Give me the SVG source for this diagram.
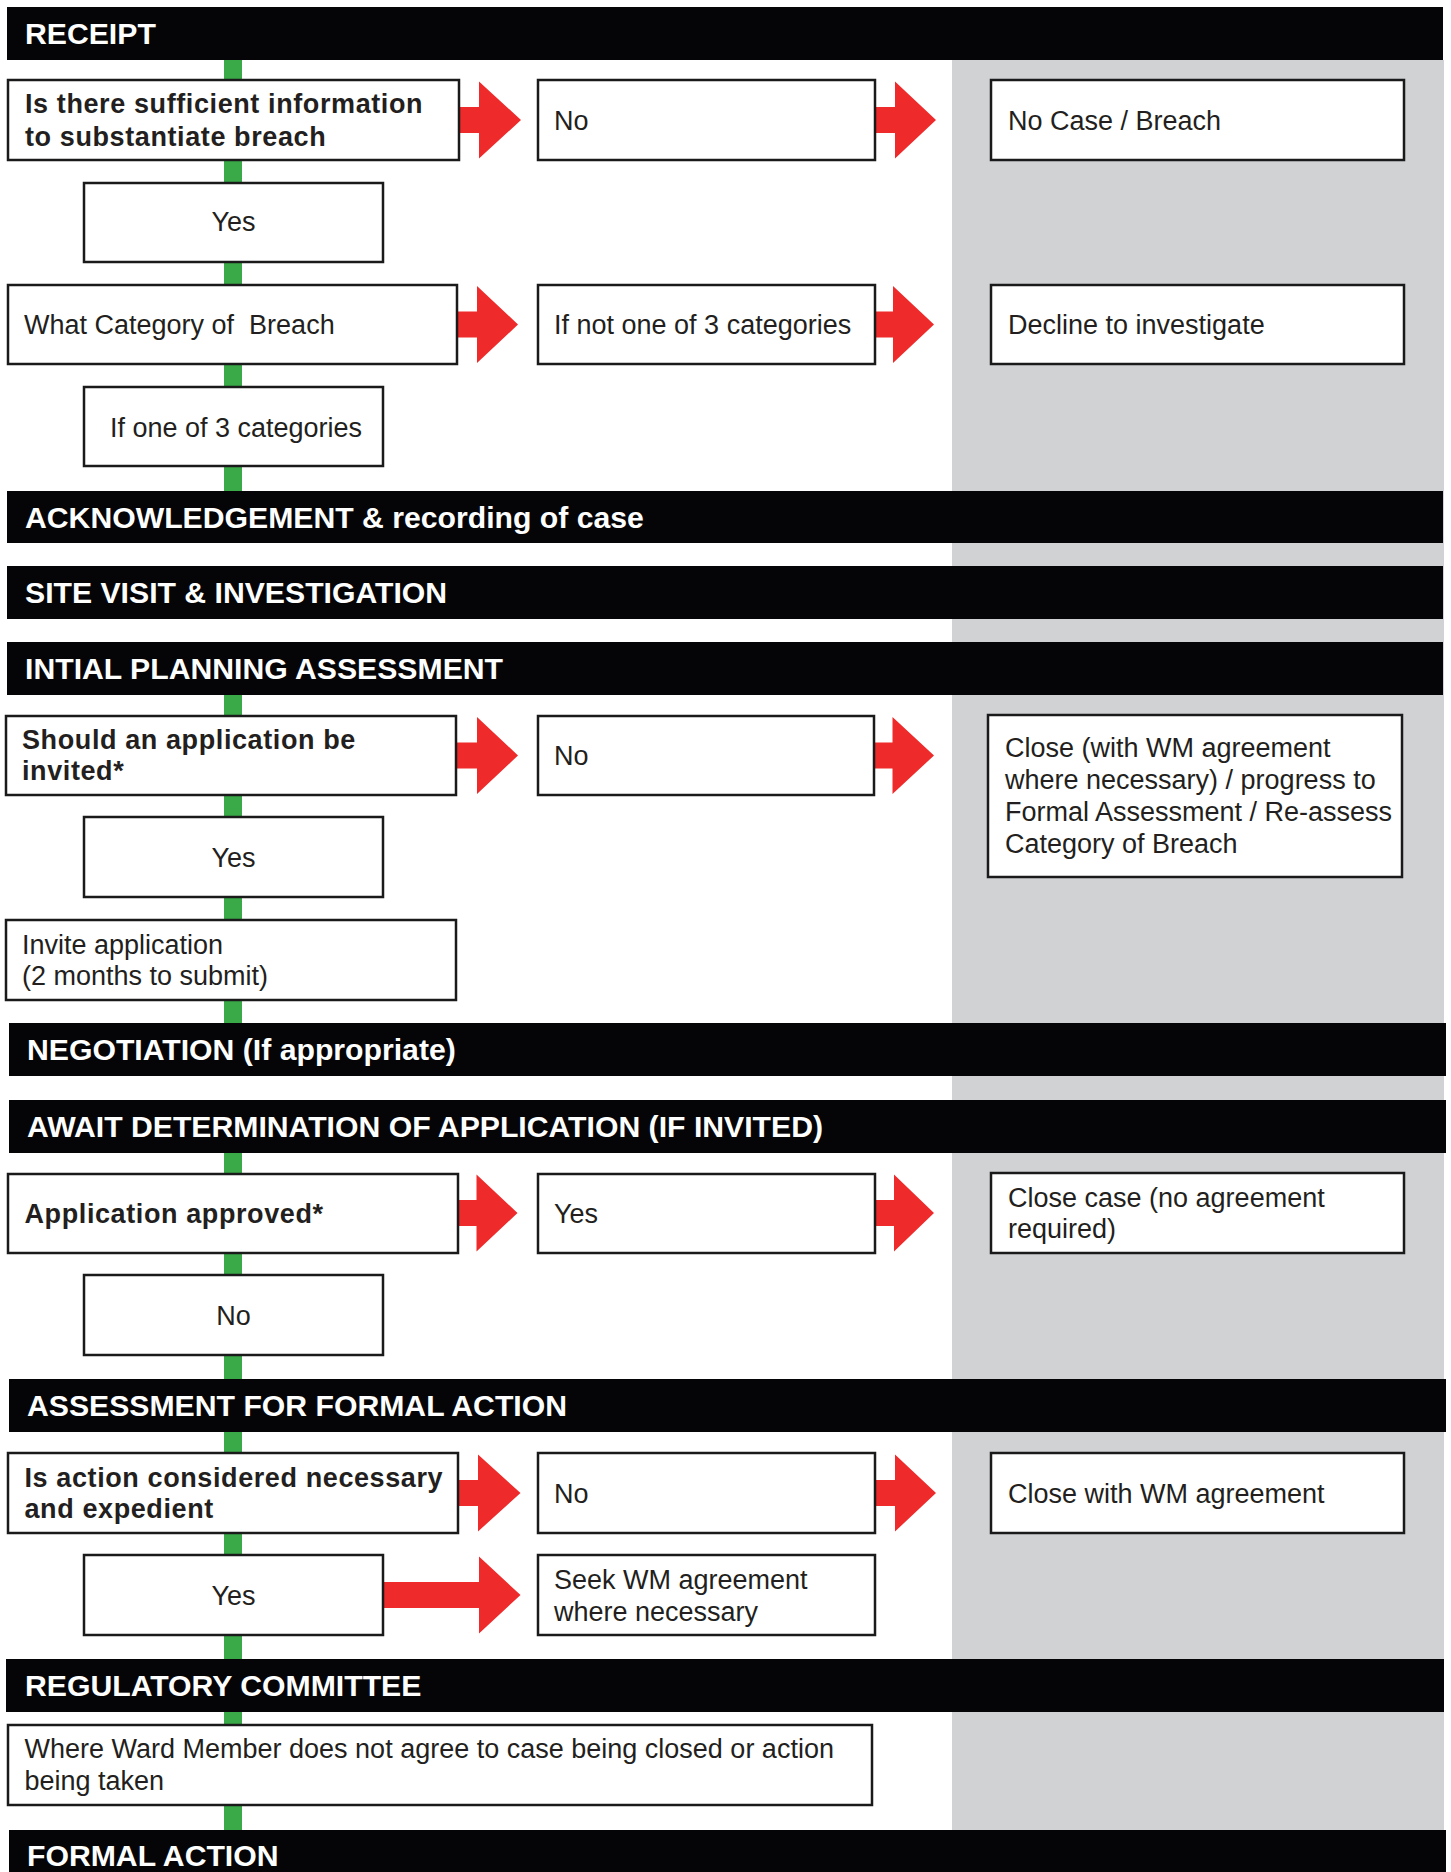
<svg xmlns="http://www.w3.org/2000/svg" width="1451" height="1872" viewBox="0 0 1451 1872">
<style>
  text { font-family: "Liberation Sans", Arial, Helvetica, sans-serif; }
  .bar { fill: #050507; }
  .bt { fill: #ffffff; font-size: 30.2px; font-weight: bold; }
  .box { fill: #ffffff; stroke: #1a1a1a; stroke-width: 2.5; }
  .t { fill: #231f20; font-size: 27px; }
  .c { text-anchor: middle; }
  .b { fill: #231f20; font-size: 27px; font-weight: bold; letter-spacing: 0.6px; }
  .green { fill: #3aaa49; }
  .arr { fill: #ee2a2a; }
  .gray { fill: #d1d2d4; }
</style>
<rect width="1451" height="1872" fill="#ffffff"/>
<rect class="gray" x="952" y="60" width="492" height="1770"/>

<g id="connectors">
  <rect class="green" x="224" y="60" width="18" height="431"/>
  <rect class="green" x="224" y="695" width="18" height="328"/>
  <rect class="green" x="224" y="1152" width="18" height="227"/>
  <rect class="green" x="224" y="1432" width="18" height="227"/>
  <rect class="green" x="224" y="1712" width="18" height="118"/>
  <polygon class="arr" points="460,107 479,107 479,81.5 521,120 479,158.5 479,133 460,133"/>
  <polygon class="arr" points="876,107 895,107 895,81.5 936,120 895,158.5 895,133 876,133"/>
  <polygon class="arr" points="457,311.5 477,311.5 477,286 518,324.5 477,363 477,337.5 457,337.5"/>
  <polygon class="arr" points="873,311.5 893,311.5 893,286 934,324.5 893,363 893,337.5 873,337.5"/>
  <polygon class="arr" points="457,742.5 477,742.5 477,717 518,755.5 477,794 477,768.5 457,768.5"/>
  <polygon class="arr" points="875,742.5 892.5,742.5 892.5,717 934,755.5 892.5,794 892.5,768.5 875,768.5"/>
  <polygon class="arr" points="459,1200 476.5,1200 476.5,1174.5 517.5,1213 476.5,1251.5 476.5,1226 459,1226"/>
  <polygon class="arr" points="876,1200 894,1200 894,1174.5 934,1213 894,1251.5 894,1226 876,1226"/>
  <polygon class="arr" points="459,1480 478,1480 478,1454.5 520.5,1493 478,1531.5 478,1506 459,1506"/>
  <polygon class="arr" points="876,1480 895,1480 895,1454.5 936,1493 895,1531.5 895,1506 876,1506"/>
  <polygon class="arr" points="384,1582 479,1582 479,1556.5 520.5,1595 479,1633.5 479,1608 384,1608"/>
</g>

<g id="bar-receipt"><rect class="bar" x="7" y="7" width="1436" height="53"/><text class="bt" x="25" y="44">RECEIPT</text></g>
<g id="bar-ack"><rect class="bar" x="7" y="491" width="1436" height="52"/><text class="bt" x="25" y="528">ACKNOWLEDGEMENT &amp; recording of case</text></g>
<g id="bar-site"><rect class="bar" x="7" y="566" width="1436" height="53"/><text class="bt" x="25" y="603">SITE VISIT &amp; INVESTIGATION</text></g>
<g id="bar-initial"><rect class="bar" x="7" y="642" width="1436" height="53"/><text class="bt" x="25" y="679">INTIAL PLANNING ASSESSMENT</text></g>
<g id="bar-negotiation"><rect class="bar" x="9" y="1023" width="1437" height="53"/><text class="bt" x="27" y="1060">NEGOTIATION (If appropriate)</text></g>
<g id="bar-await"><rect class="bar" x="9" y="1100" width="1437" height="53"/><text class="bt" x="27" y="1137">AWAIT DETERMINATION OF APPLICATION (IF INVITED)</text></g>
<g id="bar-assessment"><rect class="bar" x="9" y="1379" width="1437" height="53"/><text class="bt" x="27" y="1416">ASSESSMENT FOR FORMAL ACTION</text></g>
<g id="bar-regulatory"><rect class="bar" x="6" y="1659" width="1438" height="53"/><text class="bt" x="25" y="1696">REGULATORY COMMITTEE</text></g>
<g id="bar-formal"><rect class="bar" x="9" y="1830" width="1437" height="42"/><text class="bt" x="27" y="1866">FORMAL ACTION</text></g>

<g id="q-sufficient"><rect class="box" x="8" y="80" width="451" height="80"/><text class="b" x="25" y="113">Is there sufficient information</text><text class="b" x="25" y="146">to substantiate breach</text></g>
<g id="no-1"><rect class="box" x="538" y="80" width="337" height="80"/><text class="t" x="554" y="130">No</text></g>
<g id="no-case"><rect class="box" x="991" y="80" width="413" height="80"/><text class="t" x="1008" y="130">No Case / Breach</text></g>
<g id="yes-1"><rect class="box" x="84" y="183" width="299" height="79"/><text class="t c" x="233.5" y="231">Yes</text></g>
<g id="q-category"><rect class="box" x="8" y="285" width="449" height="79"/><text class="t" x="24" y="334" style="white-space:pre">What Category of  Breach</text></g>
<g id="not-one"><rect class="box" x="538" y="285" width="337" height="79"/><text class="t" x="554" y="334">If not one of 3 categories</text></g>
<g id="decline"><rect class="box" x="991" y="285" width="413" height="79"/><text class="t" x="1008" y="334">Decline to investigate</text></g>
<g id="one-of-3"><rect class="box" x="84" y="387" width="299" height="79"/><text class="t c" x="236" y="437">If one of 3 categories</text></g>

<g id="q-invite"><rect class="box" x="6" y="716" width="450" height="79"/><text class="b" x="22" y="749">Should an application be</text><text class="b" x="22" y="780">invited*</text></g>
<g id="no-2"><rect class="box" x="538" y="716" width="336" height="79"/><text class="t" x="554" y="765">No</text></g>
<g id="close-1"><rect class="box" x="988" y="715" width="414" height="162"/><text class="t" x="1005" y="757">Close (with WM agreement</text><text class="t" x="1005" y="789">where necessary) / progress to</text><text class="t" x="1005" y="821">Formal Assessment / Re-assess</text><text class="t" x="1005" y="853">Category of Breach</text></g>
<g id="yes-2"><rect class="box" x="84" y="817" width="299" height="80"/><text class="t c" x="233.5" y="867">Yes</text></g>
<g id="invite"><rect class="box" x="6" y="920" width="450" height="80"/><text class="t" x="22" y="954">Invite application</text><text class="t" x="22" y="985">(2 months to submit)</text></g>

<g id="q-approved"><rect class="box" x="8" y="1174" width="450" height="79"/><text class="b" x="24.5" y="1223">Application approved*</text></g>
<g id="yes-3"><rect class="box" x="538" y="1174" width="337" height="79"/><text class="t" x="554" y="1223">Yes</text></g>
<g id="close-case"><rect class="box" x="991" y="1173" width="413" height="80"/><text class="t" x="1008" y="1207">Close case (no agreement</text><text class="t" x="1008" y="1238">required)</text></g>
<g id="no-3"><rect class="box" x="84" y="1275" width="299" height="80"/><text class="t c" x="233.5" y="1325">No</text></g>

<g id="q-action"><rect class="box" x="8" y="1453" width="450" height="80"/><text class="b" x="24.5" y="1487">Is action considered necessary</text><text class="b" x="24.5" y="1518">and expedient</text></g>
<g id="no-4"><rect class="box" x="538" y="1453" width="337" height="80"/><text class="t" x="554" y="1503">No</text></g>
<g id="close-wm"><rect class="box" x="991" y="1453" width="413" height="80"/><text class="t" x="1008" y="1503">Close with WM agreement</text></g>
<g id="yes-4"><rect class="box" x="84" y="1555" width="299" height="80"/><text class="t c" x="233.5" y="1605">Yes</text></g>
<g id="seek"><rect class="box" x="538" y="1555" width="337" height="80"/><text class="t" x="554" y="1589">Seek WM agreement</text><text class="t" x="554" y="1621">where necessary</text></g>

<g id="ward"><rect class="box" x="8" y="1725" width="864" height="80"/><text class="t" x="24.5" y="1758">Where Ward Member does not agree to case being closed or action</text><text class="t" x="24.5" y="1790">being taken</text></g>
</svg>
